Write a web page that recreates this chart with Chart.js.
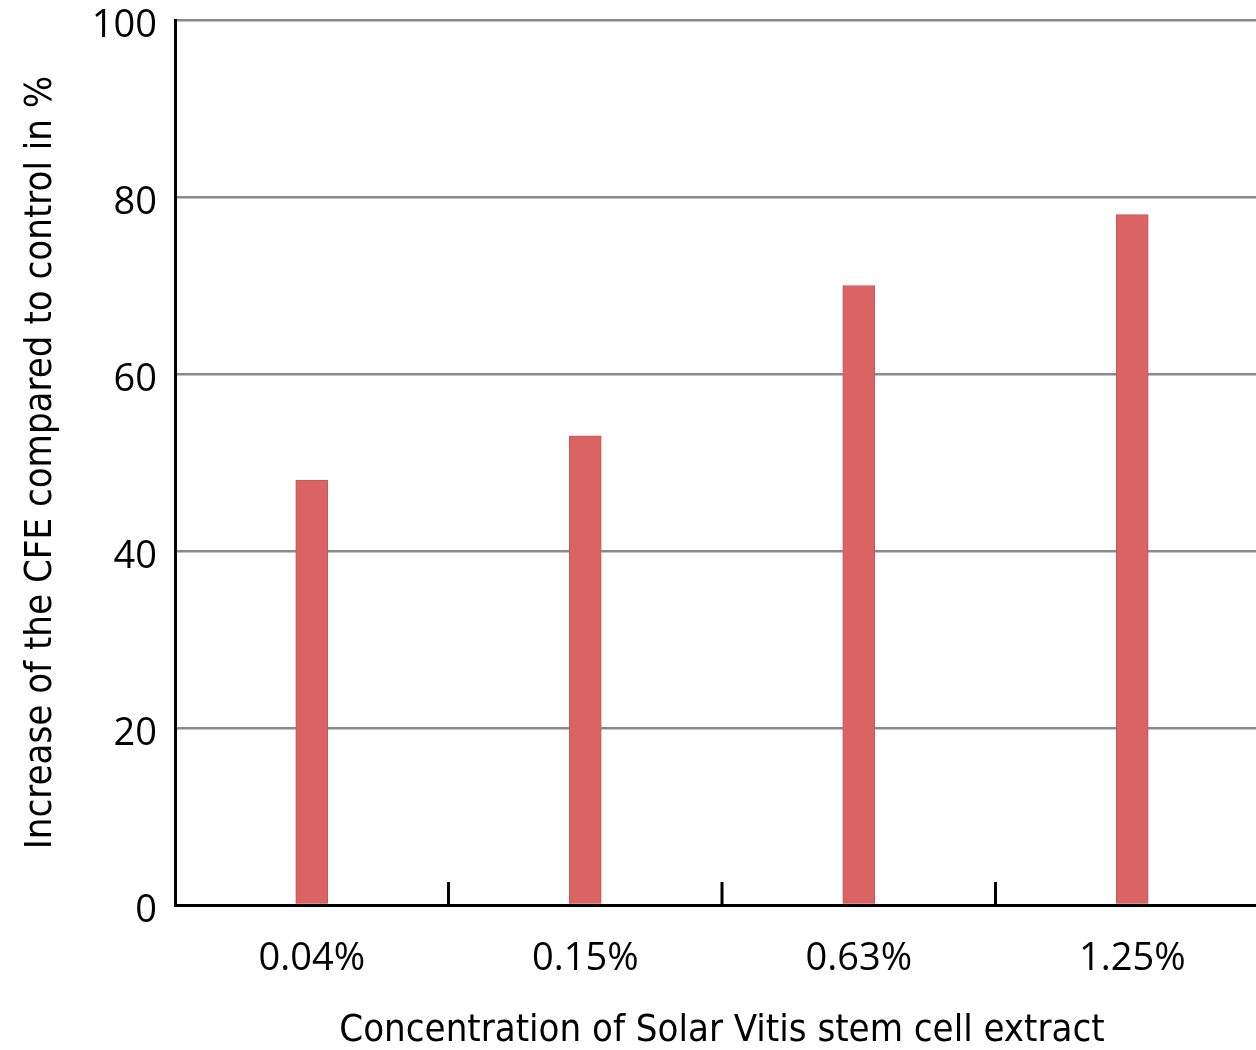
<!DOCTYPE html>
<html>
<head>
<meta charset="utf-8">
<script src="https://cdn.jsdelivr.net/npm/chart.js@4"></script>
<style>
  html, body { margin: 0; padding: 0; background: #fff; overflow: hidden; }
  #wrap { width: 1272px; height: 1050px; }
</style>
</head>
<body>
<div id="wrap"><canvas id="chart" width="1272" height="1050"></canvas></div>
<script>
const categories = ['0.04%', '0.15%', '0.63%', '1.25%'];
const cfeIncrease = [48, 53, 70, 78];
const yTicks = [0, 20, 40, 60, 80, 100];

const xTitle = 'Concentration of Solar Vitis stem cell extract';
const yTitle = 'Increase of the CFE compared to control in %';

const titleFont = "'Liberation Sans Narrow', 'DejaVu Sans Condensed', sans-serif";
const tickFont = "'Open Sans', sans-serif";

// short upward tick marks at the category boundaries of the x axis
const innerTicks = {
  id: 'innerTicks',
  afterDatasetsDraw(chart) {
    const x = chart.scales.x;
    const ctx = chart.ctx;
    const half = (x.getPixelForValue(1) - x.getPixelForValue(0)) / 2;
    ctx.save();
    ctx.strokeStyle = '#000';
    ctx.lineWidth = 3;
    for (let i = 0; i < categories.length; i++) {
      const px = x.getPixelForValue(i) + half;
      ctx.beginPath();
      ctx.moveTo(px, chart.chartArea.bottom);
      ctx.lineTo(px, chart.chartArea.bottom - 23);
      ctx.stroke();
    }
    ctx.restore();
  }
};

const ctx = document.getElementById('chart').getContext('2d');
new Chart(ctx, {
  type: 'bar',
  data: {
    labels: categories,
    datasets: [{
      data: cfeIncrease,
      backgroundColor: '#da6364',
      borderColor: '#c95556',
      borderWidth: 1,
      barThickness: 32,
    }],
  },
  plugins: [innerTicks],
  options: {
    responsive: false,
    devicePixelRatio: 1,
    animation: false,
    layout: {
      padding: { top: 0, right: 3, left: 0, bottom: 0 },
    },
    plugins: {
      legend: { display: false },
      tooltip: { enabled: false },
    },
    scales: {
      x: {
        grid: { display: false, drawTicks: false },
        border: { display: true, color: '#000', width: 3 },
        ticks: {
          color: '#000',
          padding: 31,
          font: { family: tickFont, size: 38, lineHeight: 1.2 },
        },
        title: {
          display: true,
          text: xTitle,
          color: '#000',
          padding: 0,
          font: { family: titleFont, size: 38, lineHeight: 1 },
        },
        afterFit(scale) {
          scale.height = 145;
        },
      },
      y: {
        min: 0,
        max: 100,
        afterBuildTicks(scale) {
          scale.ticks = yTicks.map(v => ({ value: v }));
        },
        grid: {
          drawTicks: false,
          lineWidth: 2.5,
          color: c => (c.tick && c.tick.value === 0 ? 'rgba(0,0,0,0)' : '#8a8a8a'),
        },
        border: { display: true, color: '#000', width: 3 },
        ticks: {
          color: '#000',
          padding: 18,
          labelOffset: 6,
          font: { family: tickFont, size: 38, lineHeight: 1 },
        },
        title: {
          display: true,
          text: yTitle,
          color: '#000',
          padding: { top: 22, bottom: 0 },
          font: { family: titleFont, size: 38, lineHeight: 1 },
        },
        afterFit(scale) {
          scale.width = 175;
          scale.paddingTop = 20;
          scale.paddingBottom = 0;
        },
      },
    },
  },
});
</script>
</body>
</html>
